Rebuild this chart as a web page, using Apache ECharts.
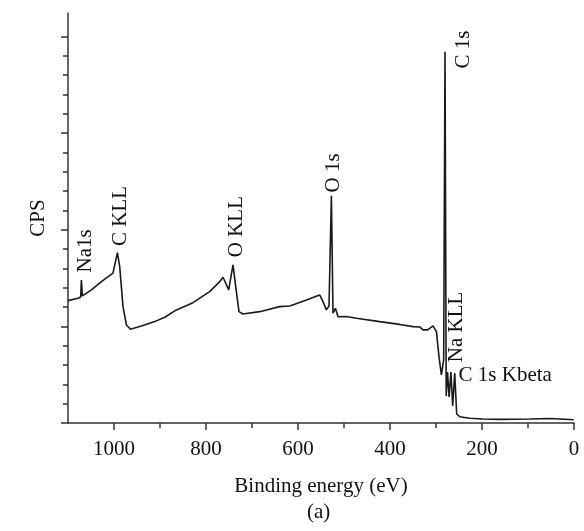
<!DOCTYPE html>
<html><head><meta charset="utf-8">
<script src="https://cdn.jsdelivr.net/npm/echarts@6/dist/echarts.min.js"></script>
<style>html,body{margin:0;padding:0;background:#fff}#c{width:584px;height:531px}</style>
</head><body><div id="c"></div>
<script>
// Binding energy (eV) and intensity (CPS, arbitrary units)
const energies = [1100, 1078.3, 1072.4, 1070.9, 1068.7, 1049.1, 1027.4, 1002.2, 998.5, 992.6, 987.6, 980.4, 973, 964.3, 940.4, 911.5, 889.8, 864.3, 828.3, 792, 770.2, 763, 750.7, 741.3, 735.4, 728.3, 719.6, 683.3, 639.8, 618, 581.7, 552.8, 545.7, 538.3, 532.6, 527.4, 523.9, 518.7, 513, 494.8, 473, 422.4, 379, 350, 335.4, 328.3, 318, 306.5, 299.1, 293.5, 288.3, 283.3, 280.4, 277.8, 275, 271.5, 267.6, 263.7, 259.3, 255, 248.5, 226.7, 198.5, 162, 96, 52.8, 31, 0.6];
const cps = [1266, 1291, 1304, 1480, 1315, 1377, 1463, 1550, 1566, 1763, 1618, 1204, 1014, 970, 1004, 1049, 1094, 1170, 1245, 1359, 1463, 1508, 1377, 1636, 1411, 1152, 1128, 1152, 1204, 1211, 1273, 1325, 1256, 1170, 1211, 2350, 1136, 1187, 1100, 1102, 1084, 1049, 1020, 997, 994, 963, 963, 1004, 945, 686, 497, 652, 3841, 280, 528, 269, 528, 176, 518, 93, 65, 49, 41, 38, 41, 46, 41, 33];

const xMajorTicks = [0, 200, 400, 600, 800, 1000];
const xMinorTicks = [100, 300, 500, 700, 900];
const yMajorTicks = [0, 1000, 2000, 3000, 4000];
const yMinorTicks = [200, 400, 600, 800, 1200, 1400, 1600, 1800, 2200, 2400, 2600, 2800, 3200, 3400, 3600, 3800];

const peakNames = ['Na1s', 'C KLL', 'O KLL', 'O 1s', 'C 1s', 'Na KLL', 'C 1s Kbeta'];
const peakEnergies = [1061.5, 985.9, 733.3, 523, 240.2, 255, 251];
const peakCps = [1780, 2143, 2032, 2588, 3864, 994, 487];
const peakRotations = [90, 90, 90, 90, 90, 90, 0];

const FONT = 'Liberation Serif';
const INK = '#111';
const X_MIN = 0, X_MAX = 1100, Y_MIN = 0, Y_MAX = 4242;

const chart = echarts.init(document.getElementById('c'), null, {renderer: 'canvas'});

const lineData = energies.map((e, i) => [e, cps[i]]);
const peakData = peakNames.map((n, i) => ({
  value: [peakEnergies[i], peakCps[i]],
  name: n,
  label: {
    rotate: peakRotations[i],
    align: peakRotations[i] === 0 ? 'left' : 'center',
    verticalAlign: 'middle'
  }
}));

const axisLineStyle = {color: '#333', width: 1.5};

chart.setOption({
  animation: false,
  backgroundColor: '#fff',
  grid: {left: 68, right: 10, top: 13, bottom: 108},
  xAxis: [{
    type: 'value', position: 'bottom', inverse: true,
    min: X_MIN, max: X_MAX,
    name: 'Binding energy (eV)', nameLocation: 'middle', nameGap: 53,
    nameTextStyle: {fontFamily: FONT, fontSize: 21, color: INK},
    axisLine: {show: true, onZero: false, lineStyle: axisLineStyle},
    axisTick: {show: true, length: 7, customValues: xMajorTicks, lineStyle: axisLineStyle},
    axisLabel: {show: true, customValues: xMajorTicks, margin: 16, fontFamily: FONT, fontSize: 21, color: INK,
      formatter: v => String(v)},
    splitLine: {show: false}
  }, {
    type: 'value', position: 'bottom', inverse: true,
    min: X_MIN, max: X_MAX,
    axisLine: {show: false, onZero: false},
    axisTick: {show: true, length: 5, customValues: xMinorTicks, lineStyle: axisLineStyle},
    axisLabel: {show: false},
    splitLine: {show: false}
  }],
  yAxis: [{
    type: 'value', position: 'left',
    min: Y_MIN, max: Y_MAX,
    name: 'CPS', nameLocation: 'middle', nameGap: 19,
    nameTextStyle: {fontFamily: FONT, fontSize: 21, color: INK},
    axisLine: {show: true, onZero: false, lineStyle: axisLineStyle},
    axisTick: {show: true, length: 7, customValues: yMajorTicks, lineStyle: axisLineStyle},
    axisLabel: {show: false},
    splitLine: {show: false}
  }, {
    type: 'value', position: 'left',
    min: Y_MIN, max: Y_MAX,
    axisLine: {show: false, onZero: false},
    axisTick: {show: true, length: 5, customValues: yMinorTicks, lineStyle: axisLineStyle},
    axisLabel: {show: false},
    splitLine: {show: false}
  }],
  series: [{
    type: 'line',
    xAxisIndex: 0, yAxisIndex: 0,
    data: lineData,
    showSymbol: false,
    symbol: 'none',
    smooth: false,
    sampling: null,
    lineStyle: {color: '#1a1a1a', width: 1.6},
    silent: true,
    z: 2
  }, {
    type: 'scatter',
    xAxisIndex: 0, yAxisIndex: 0,
    data: peakData,
    symbolSize: 0,
    silent: true,
    z: 3,
    itemStyle: {opacity: 1},
    label: {
      show: true, position: 'inside',
      formatter: p => p.name,
      fontFamily: FONT, fontSize: 21, color: INK, opacity: 1,
      textBorderWidth: 0
    }
  }],
  graphic: [{
    type: 'text',
    left: 307, top: 502,
    style: {text: '(a)', fontFamily: FONT, fontSize: 21, fill: INK}
  }]
});
</script>
</body></html>
